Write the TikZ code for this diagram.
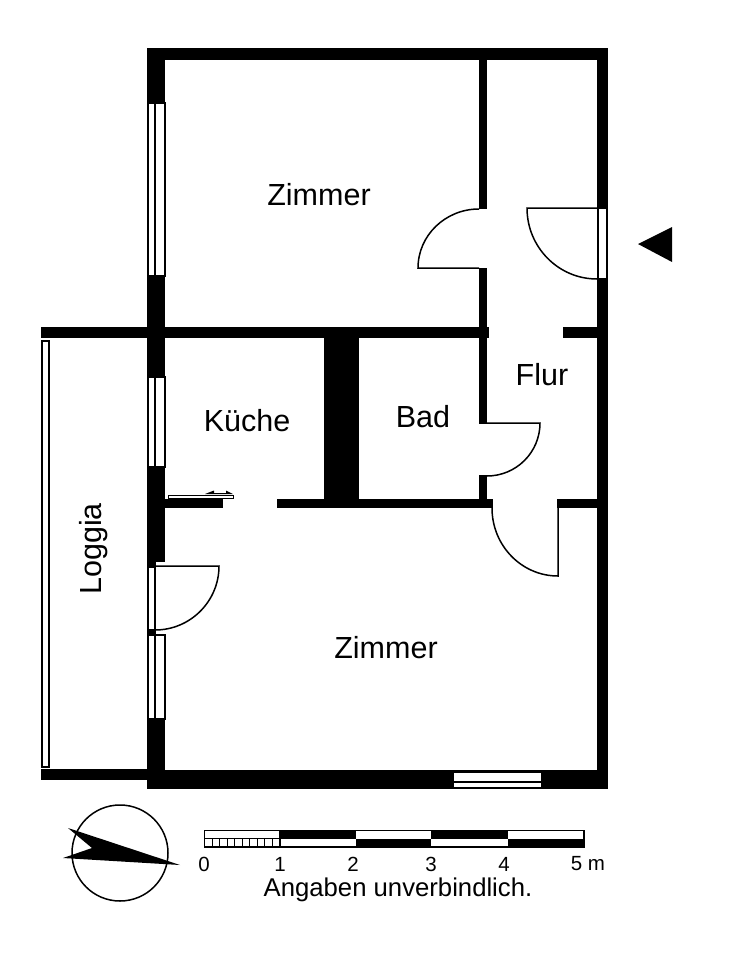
\documentclass[tikz,border=0pt]{standalone}
\usepackage{fontspec}
\setmainfont{Liberation Sans}
\tikzset{
  wall/.style={fill=black,draw=none},
  pane/.style={fill=white,draw=black,line width=1.4pt},
  leaf/.style={draw=black,line width=1.5pt,fill=none},
  room/.style={inner sep=0pt,font=\fontsize{30.5}{30.5}\selectfont},
  tick/.style={inner sep=0pt,font=\fontsize{20.5}{20.5}\selectfont},
  seg/.style={draw=black,line width=1.2pt}
}
\begin{document}
\begin{tikzpicture}[x=1pt,y=-1pt]
\useasboundingbox[fill=white] (0,0) rectangle (740,960);
% outer walls
\fill[wall] (147,48) rectangle (608,60);
\fill[wall] (147,48) rectangle (165,789);
\fill[wall] (597,48) rectangle (608,789);
\fill[wall] (147,770) rectangle (608,789);
% cross walls
\fill[wall] (41,327) rectangle (489,338);
\fill[wall] (563,327) rectangle (597,338);
\fill[wall] (41,769) rectangle (147,780);
\fill[wall] (479,60) rectangle (487,209);
\fill[wall] (479,268) rectangle (487,424);
\fill[wall] (479,475) rectangle (487,499);
\fill[wall] (324,338) rectangle (359,499);
\fill[wall] (165,499) rectangle (223,508);
\fill[wall] (277,499) rectangle (493,508);
\fill[wall] (557,499) rectangle (597,508);
% left wall windows
\fill[white] (155.5,562) rectangle (165.5,635);
\draw[pane] (148.5,103) rectangle (154.8,276);
\draw[pane] (154.8,103) rectangle (164.8,276);
\draw[pane] (148.5,377) rectangle (154.8,467);
\draw[pane] (154.8,377) rectangle (164.8,467);
\draw[pane] (148.5,635) rectangle (154.8,719);
\draw[pane] (154.8,635) rectangle (164.8,719);
\draw[pane] (148.5,567) rectangle (154.8,630);
\fill[wall] (147,630) rectangle (155,635);
% bottom window
\draw[pane] (453,772) rectangle (542,782);
\draw[pane] (453,782) rectangle (542,788);
% loggia window
\draw[pane] (42,341) rectangle (49,767);
% entrance opening
\draw[pane] (598,208.5) rectangle (606.5,278.5);
% door leaves
\draw[leaf] (479,209) arc[start angle=90,end angle=180,x radius=61,y radius=-59] -- (479,268);
\draw[leaf] (597,208) -- (527,208) arc[start angle=180,end angle=270,x radius=70,y radius=-71];
\draw[leaf] (487,423) -- (540,423) arc[start angle=0,end angle=90,x radius=53,y radius=53];
\draw[leaf] (492,508) arc[start angle=180,end angle=270,x radius=66,y radius=-68] -- (558,508);
\draw[leaf] (155,566) -- (219,566) arc[start angle=0,end angle=90,x radius=64,y radius=64];
% sliding door
\draw[pane,line width=1pt] (168,495) rectangle (233,498);
\fill[wall] (205,494) -- (214,490.5) -- (214,493) -- (226,493) -- (226,490.5) -- (233,494) -- cycle;
% entrance mark
\fill[wall] (638,244) -- (672,227) -- (672,262) -- cycle;
% labels
\node[room] (zimmerA) at (319,195) {Zimmer};
\node[room] (zimmerB) at (386,648) {Zimmer};
\node[room] (kueche) at (247,421) {Küche};
\node[room] (bad) at (423,417) {Bad};
\node[room] (flur) at (542,375) {Flur};
\node[room,rotate=90] (loggia) at (94,549) {Loggia};
% compass
\draw[black,line width=1.5pt] (120,853) circle[radius=48];
\fill[wall] (68,828) -- (92,848) -- (63,858) -- (180,865) -- cycle;
% scale bar
\draw[seg,fill=white] (204.5,830.5) rectangle (584,847);
\fill[wall] (280,830.5) rectangle (356,838.5);
\fill[wall] (356,838.5) rectangle (431,847);
\fill[wall] (431,830.5) rectangle (508,838.5);
\fill[wall] (508,838.5) rectangle (584,847);
\draw[seg] (204.5,838.5) -- (280,838.5) (280,830.5) -- (280,847);
\foreach \i in {1,...,9} \draw[black,line width=1pt] ({204.5+7.55*\i},838.5) -- ({204.5+7.55*\i},847);
\node[tick] (t0) at (204,864) {0};
\node[tick] (t1) at (280,864) {1};
\node[tick] (t2) at (353,864) {2};
\node[tick] (t3) at (431,864) {3};
\node[tick] (t4) at (504,864) {4};
\node[tick] (t5) at (588,864) {5 m};
\node[inner sep=0pt,font=\fontsize{25.7}{25.7}\selectfont] (note) at (398,890) {Angaben unverbindlich.};
\end{tikzpicture}
\end{document}
